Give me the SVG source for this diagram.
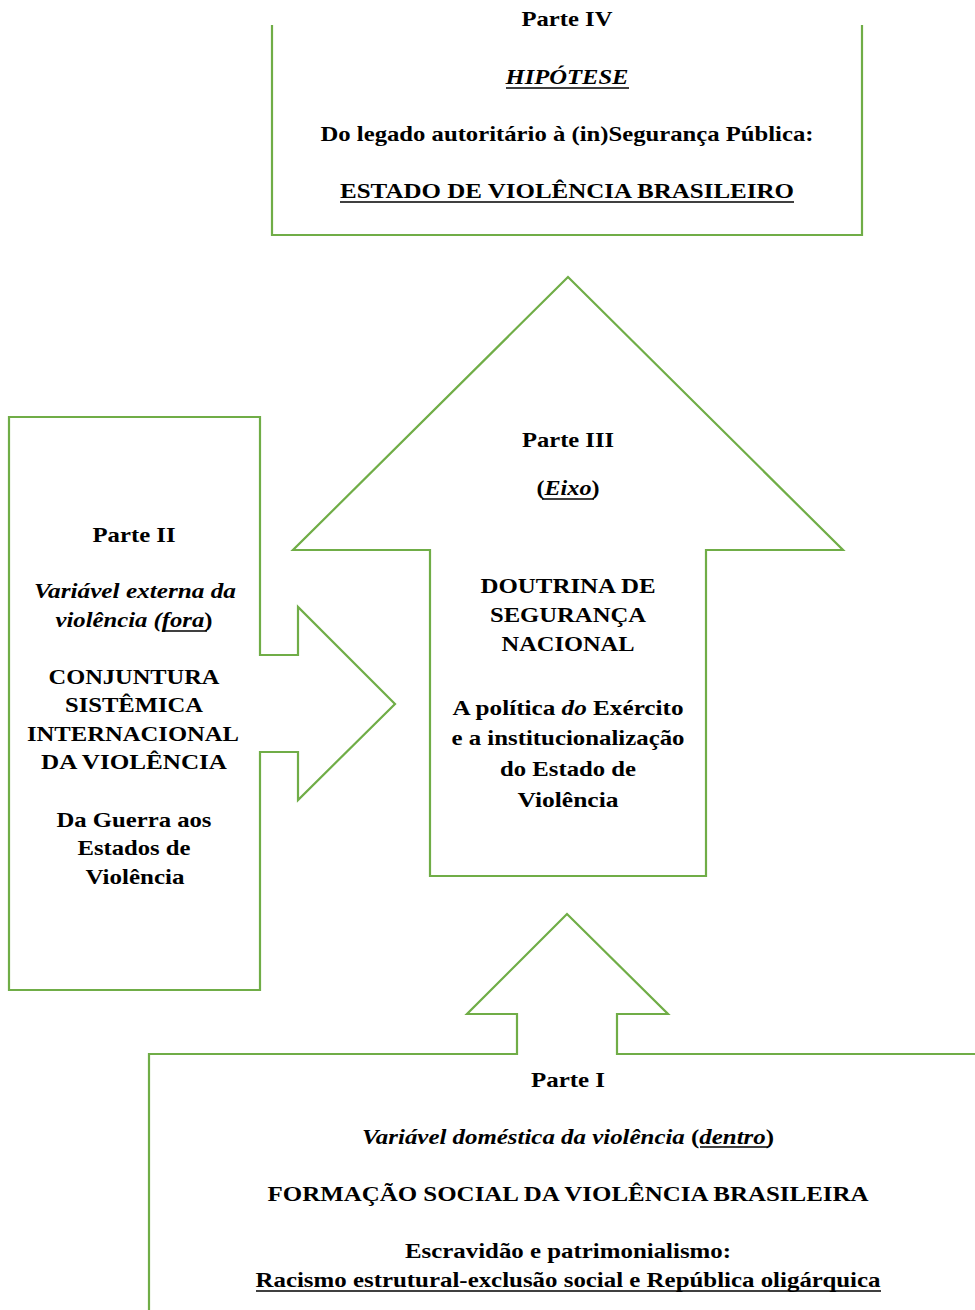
<svg xmlns="http://www.w3.org/2000/svg" width="975" height="1310" viewBox="0 0 975 1310">
<style>
.s{fill:#fff;stroke:#70ad47;stroke-width:2.2;stroke-linejoin:miter}
.o{fill:none;stroke:#70ad47;stroke-width:2.2}
text{font-family:"Liberation Serif","Times New Roman",serif;font-weight:bold;font-size:21px;fill:#000;text-anchor:middle}
.i{font-style:italic}
.u{stroke:#000;stroke-width:1.5}
</style>
<rect width="975" height="1310" fill="#fff"/>
<g id="connectors">
</g>
<g id="parte-iv">
<path class="o" d="M272,25 V235 H862 V25"/>
<text x="567" y="26" textLength="91" lengthAdjust="spacingAndGlyphs">Parte IV</text>
<text x="567" y="84" class="i" textLength="123" lengthAdjust="spacingAndGlyphs">HIPÓTESE</text>
<line class="u" x1="506" y1="88" x2="629" y2="88"/>
<text x="567" y="141" textLength="493" lengthAdjust="spacingAndGlyphs">Do legado autoritário à (in)Segurança Pública:</text>
<text x="567" y="198" textLength="454" lengthAdjust="spacingAndGlyphs">ESTADO DE VIOLÊNCIA BRASILEIRO</text>
<line class="u" x1="340" y1="202" x2="794" y2="202"/>
</g>
<g id="parte-iii">
<path class="s" d="M568,277 L293,550 H430 V876 H706 V550 H843 Z"/>
<text x="568" y="447" textLength="92" lengthAdjust="spacingAndGlyphs">Parte III</text>
<text x="568" y="495" textLength="63" lengthAdjust="spacingAndGlyphs">(<tspan class="i">Eixo</tspan>)</text>
<line class="u" x1="542" y1="499" x2="594" y2="499"/>
<text x="568" y="593" textLength="175" lengthAdjust="spacingAndGlyphs">DOUTRINA DE</text>
<text x="568" y="622" textLength="156" lengthAdjust="spacingAndGlyphs">SEGURANÇA</text>
<text x="568" y="651" textLength="133" lengthAdjust="spacingAndGlyphs">NACIONAL</text>
<text x="568" y="715" textLength="231" lengthAdjust="spacingAndGlyphs">A política <tspan class="i">do</tspan> Exército</text>
<text x="568" y="745" textLength="233" lengthAdjust="spacingAndGlyphs">e a institucionalização</text>
<text x="568" y="776" textLength="136" lengthAdjust="spacingAndGlyphs">do Estado de</text>
<text x="568" y="807" textLength="101" lengthAdjust="spacingAndGlyphs">Violência</text>
</g>
<g id="parte-ii">
<path class="s" d="M260,417 H9 V990 H260 V752 H298 V800 L395,704 L298,607 V655 H260 Z"/>
<text x="134" y="542" textLength="83" lengthAdjust="spacingAndGlyphs">Parte II</text>
<text x="135" y="598" class="i" textLength="202" lengthAdjust="spacingAndGlyphs">Variável externa da</text>
<text x="134" y="627" textLength="157" lengthAdjust="spacingAndGlyphs"><tspan class="i">violência (fora</tspan>)</text>
<line class="u" x1="162" y1="631" x2="207" y2="631"/>
<text x="134" y="684" textLength="171" lengthAdjust="spacingAndGlyphs">CONJUNTURA</text>
<text x="134" y="712" textLength="138" lengthAdjust="spacingAndGlyphs">SISTÊMICA</text>
<text x="133" y="741" textLength="212" lengthAdjust="spacingAndGlyphs">INTERNACIONAL</text>
<text x="134" y="769" textLength="186" lengthAdjust="spacingAndGlyphs">DA VIOLÊNCIA</text>
<text x="134" y="827" textLength="155" lengthAdjust="spacingAndGlyphs">Da Guerra aos</text>
<text x="134" y="855" textLength="113" lengthAdjust="spacingAndGlyphs">Estados de</text>
<text x="135" y="884" textLength="99" lengthAdjust="spacingAndGlyphs">Violência</text>
</g>
<g id="parte-i">
<path class="o" d="M149,1310 V1054 H517 V1014 H467 L567,914 L668,1014 H617 V1054 H975"/>
<text x="568" y="1087" textLength="74" lengthAdjust="spacingAndGlyphs">Parte I</text>
<text x="568" y="1144" textLength="412" lengthAdjust="spacingAndGlyphs"><tspan class="i">Variável doméstica da violência</tspan> (<tspan class="i">dentro</tspan>)</text>
<line class="u" x1="700" y1="1147" x2="768" y2="1147"/>
<text x="568" y="1201" textLength="601" lengthAdjust="spacingAndGlyphs">FORMAÇÃO SOCIAL DA VIOLÊNCIA BRASILEIRA</text>
<text x="568" y="1258" textLength="326" lengthAdjust="spacingAndGlyphs">Escravidão e patrimonialismo:</text>
<text x="568" y="1287" textLength="625" lengthAdjust="spacingAndGlyphs">Racismo estrutural-exclusão social e República oligárquica</text>
<line class="u" x1="256" y1="1291" x2="881" y2="1291"/>
</g>
</svg>
